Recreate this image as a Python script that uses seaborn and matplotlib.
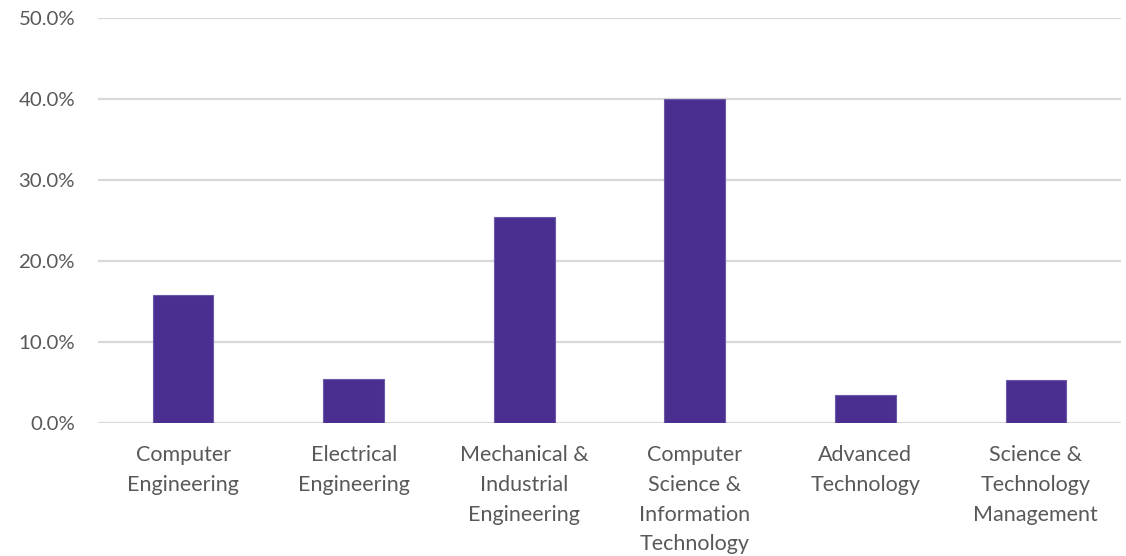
import matplotlib
matplotlib.use("Agg")
import matplotlib.pyplot as plt
from matplotlib.ticker import PercentFormatter
import seaborn as sns
import pandas as pd

# Share of students by program
programs = [
    "Computer\nEngineering",
    "Electrical\nEngineering",
    "Mechanical &\nIndustrial\nEngineering",
    "Computer\nScience &\nInformation\nTechnology",
    "Advanced\nTechnology",
    "Science &\nTechnology\nManagement",
]
shares = [15.8, 5.5, 25.5, 40.0, 3.5, 5.3]
y_ticks = [0, 10, 20, 30, 40, 50]

df = pd.DataFrame({"program": programs, "share": shares})

sns.set_theme(style="white")
plt.rcParams["font.family"] = ["Lato", "DejaVu Sans"]

fig = plt.figure(figsize=(11.26, 5.56), dpi=100)
ax = fig.add_axes([0.087, 0.239, 0.9086, 0.7286])

sns.barplot(data=df, x="program", y="share", color="#4A2F90",
            width=0.355, saturation=1, ax=ax,
            edgecolor="#6C58A8", linewidth=0.8)

ax.set_ylim(0, 50)
ax.set_yticks(y_ticks)
ax.yaxis.set_major_formatter(PercentFormatter(decimals=1))
ax.grid(axis="y", color="#D9D9D9", linewidth=1.6)
ax.set_axisbelow(True)
for s in ax.spines.values():
    s.set_visible(False)
ax.set_xlabel("")
ax.set_ylabel("")
ax.tick_params(axis="y", length=0, pad=16.5, labelsize=14.7, labelcolor="#595959")
ax.tick_params(axis="x", length=0, pad=16, labelsize=15.5, labelcolor="#595959")
for lbl in ax.get_xticklabels():
    lbl.set_linespacing(1.6)

fig.savefig("out.png", dpi=100, facecolor="white")
